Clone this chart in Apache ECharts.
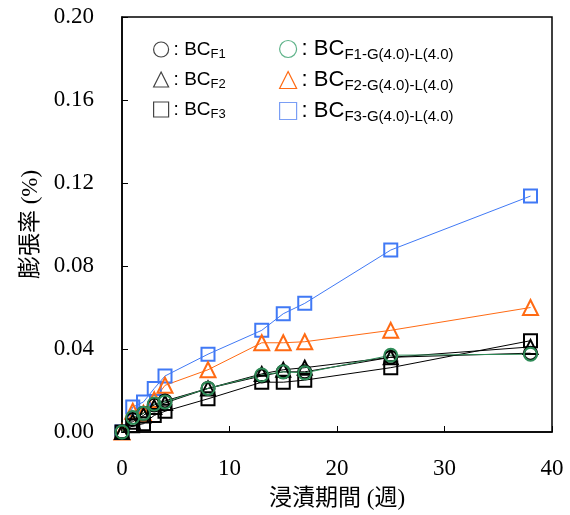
<!DOCTYPE html>
<html>
<head>
<meta charset="utf-8">
<script src="https://cdn.jsdelivr.net/npm/echarts@6/dist/echarts.min.js"></script>
<style>
  html, body { margin: 0; padding: 0; background: #fff; }
  #chart { width: 570px; height: 515px; }
</style>
</head>
<body>
<div id="chart"></div>
<script>
// 浸漬期間 (週)
var weeks = [0, 1, 2, 3, 4, 8, 13, 15, 17, 25, 38];

// 膨張率 (%)
var bcF1     = [0, 0.006, 0.009, 0.013, 0.015, 0.021, 0.027, 0.029, 0.029, 0.036, 0.038];
var bcF2     = [0, 0.005, 0.008, 0.012, 0.014, 0.021, 0.028, 0.030, 0.031, 0.036, 0.041];
var bcF3     = [0, 0.003, 0.004, 0.008, 0.010, 0.016, 0.024, 0.024, 0.025, 0.031, 0.044];
var bcF1GL   = [0, 0.007, 0.009, 0.0135, 0.0145, 0.021, 0.0275, 0.029, 0.0285, 0.037, 0.0375];
var bcF2GL   = [0, 0.010, 0.009, 0.0155, 0.0225, 0.030, 0.043, 0.043, 0.0435, 0.049, 0.060];
var bcF3GL   = [0, 0.012, 0.0145, 0.021, 0.027, 0.0375, 0.049, 0.057, 0.062, 0.0877, 0.1137];

var yTicks = [0, 0.04, 0.08, 0.12, 0.16, 0.20];

var serif = '"Liberation Serif", "Noto Sans CJK JP", serif';
var sans = '"Liberation Sans", Arial, sans-serif';

function pairs(ys) {
	var out = [];
	for (var i = 0; i < weeks.length; i++) {
		out.push([weeks[i], ys[i]]);
	}
	return out;
}

function mkSeries(name, ys, symbol, size, color) {
	return {
		name : name,
		type : 'line',
		data : pairs(ys),
		symbol : symbol,
		symbolSize : size,
		showSymbol : true,
		animation : false,
		lineStyle : { color : color, width : 1 },
		itemStyle : { color : 'rgba(0,0,0,0)', borderColor : color, borderWidth : 2 }
	};
}

function legendItem(name, icon, color) {
	return {
		name : name,
		icon : icon,
		itemStyle : { color : '#fff', borderColor : color, borderWidth : 1.2 }
	};
}

function richFor(big, small, pad) {
	return {
		a : { fontFamily : sans, fontSize : big, color : '#000' },
		b : { fontFamily : sans, fontSize : small, color : '#000', verticalAlign : 'bottom', padding : [pad, 0, 0, 0] }
	};
}

function legendFmt(name) {
	return '{a|: BC}{b|' + name.replace('BC', '') + '}';
}

var black = '#000';
var legendBlack = '#444';
var green = '#2e8b57';
var orange = '#ff6a13';
var blue = '#4079f5';

var chart = echarts.init(document.getElementById('chart'));

var option = {
	backgroundColor : '#fff',
	animation : false,
	grid : {
		left : 122,
		right : 18,
		top : 17,
		bottom : 83,
		show : true,
		borderColor : '#000',
		borderWidth : 1.5
	},
	legend : [ {
		orient : 'vertical',
		left : 148,
		top : 35,
		itemWidth : 15,
		itemHeight : 15,
		itemGap : 9,
		selectedMode : false,
		formatter : legendFmt,
		textStyle : { rich : richFor(19, 13, 10) },
		data : [
			legendItem('BCF1', 'circle', legendBlack),
			legendItem('BCF2', 'triangle', legendBlack),
			legendItem('BCF3', 'rect', legendBlack)
		]
	}, {
		orient : 'vertical',
		left : 274,
		top : 33,
		itemWidth : 17,
		itemHeight : 17,
		itemGap : 7,
		selectedMode : false,
		formatter : legendFmt,
		textStyle : { rich : richFor(22, 15, 11) },
		data : [
			legendItem('BCF1-G(4.0)-L(4.0)', 'circle', '#5fb38a'),
			legendItem('BCF2-G(4.0)-L(4.0)', 'triangle', orange),
			legendItem('BCF3-G(4.0)-L(4.0)', 'rect', '#7a9ef5')
		]
	} ],
	xAxis : {
		type : 'value',
		min : 0,
		max : 40,
		interval : 10,
		name : '浸漬期間 (週)',
		nameLocation : 'middle',
		nameGap : 55,
		nameTextStyle : { fontFamily : serif, fontSize : 23, color : '#000' },
		axisLine : { lineStyle : { color : '#000', width : 1.5 } },
		axisTick : { inside : true, length : 6, lineStyle : { color : '#000' } },
		axisLabel : { fontFamily : serif, fontSize : 23, color : '#000', margin : 25 },
		splitLine : { show : false }
	},
	yAxis : {
		type : 'value',
		min : yTicks[0],
		max : yTicks[yTicks.length - 1],
		interval : 0.04,
		name : '膨張率 (%)',
		nameLocation : 'middle',
		nameGap : 78,
		nameTextStyle : { fontFamily : serif, fontSize : 23, color : '#000' },
		axisLine : { lineStyle : { color : '#000', width : 1.5 } },
		axisTick : { inside : true, length : 6, lineStyle : { color : '#000' } },
		axisLabel : {
			fontFamily : serif, fontSize : 23, color : '#000', margin : 28,
			formatter : function(v) { return v.toFixed(2); }
		},
		splitLine : { show : false }
	},
	series : [
		mkSeries('BCF3-G(4.0)-L(4.0)', bcF3GL, 'rect', 13, blue),
		mkSeries('BCF2-G(4.0)-L(4.0)', bcF2GL, 'triangle', 15, orange),
		mkSeries('BCF3', bcF3, 'rect', 13, black),
		mkSeries('BCF1', bcF1, 'circle', 13, black),
		mkSeries('BCF2', bcF2, 'triangle', 14, black),
		mkSeries('BCF1-G(4.0)-L(4.0)', bcF1GL, 'circle', 13, green)
	]
};

chart.setOption(option);
</script>
</body>
</html>
